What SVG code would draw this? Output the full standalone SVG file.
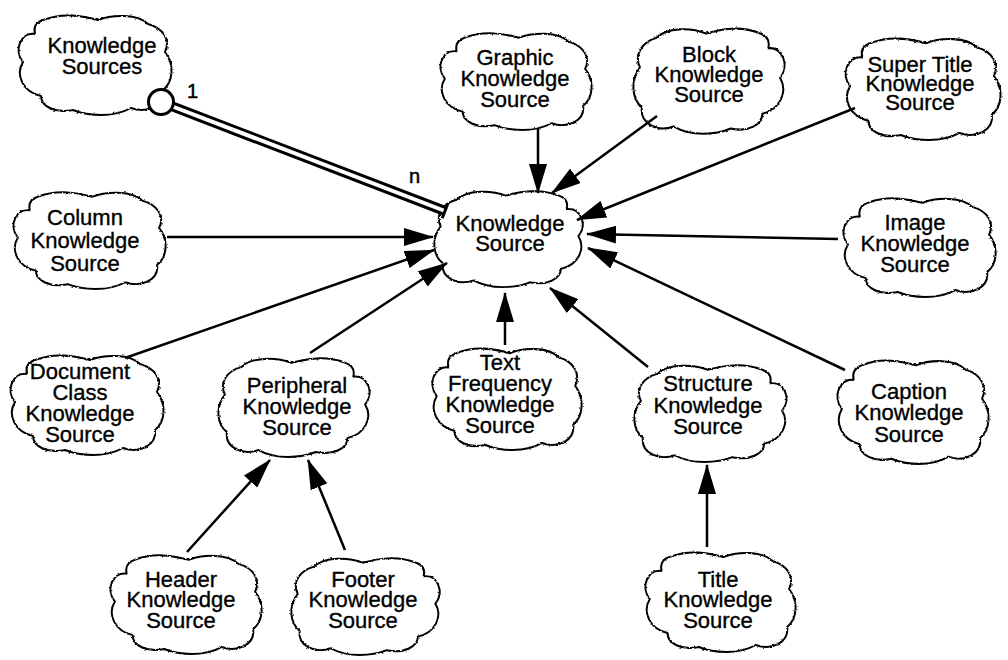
<svg xmlns="http://www.w3.org/2000/svg" xmlns:xlink="http://www.w3.org/1999/xlink" width="1008" height="660" viewBox="0 0 1008 660">
  <style>
    .cloud { fill: #fff; stroke: #000; stroke-width: 2; stroke-linejoin: round; vector-effect: non-scaling-stroke; }
    .lbl { font-family: "Liberation Sans", Arial, Helvetica, sans-serif; font-size: 22px; fill: #000; stroke: #000; stroke-width: 0.35; text-anchor: middle; }
    .card { font-family: "Liberation Sans", Arial, Helvetica, sans-serif; font-size: 20px; fill: #000; stroke: #000; stroke-width: 0.5; }
    .edge { stroke: #000; stroke-width: 2.5; fill: none; marker-end: url(#ah); }
  </style>
  <defs>
    <path id="cloud" d="M30,10 C50,2 70,6 85,10 C100,4 125,4 135,14 C150,18 158,30 152,42 C162,55 160,72 150,80 C152,95 135,104 118,98 C100,108 75,106 60,100 C42,104 28,96 28,86 C10,82 2,65 10,52 C0,40 8,22 22,24 C20,16 24,12 30,10 Z"/>
    <filter id="rough" x="-5%" y="-5%" width="110%" height="110%">
      <feTurbulence type="fractalNoise" baseFrequency="0.35" numOctaves="2" seed="3" result="n"/>
      <feDisplacementMap in="SourceGraphic" in2="n" scale="2.5" xChannelSelector="R" yChannelSelector="G"/>
    </filter>
    <marker id="ah" markerUnits="userSpaceOnUse" markerWidth="30" markerHeight="18" refX="29" refY="9" orient="auto">
      <path d="M0,0 L30,9 L0,18 Z" fill="#000"/>
    </marker>
  </defs>
  <rect width="1008" height="660" fill="#fff"/>

  <g id="node-knowledge-sources">
    <use xlink:href="#cloud" class="cloud" filter="url(#rough)" transform="translate(13,10) scale(1,1)"/>
    <text class="lbl"><tspan x="102" y="53">Knowledge</tspan><tspan x="102" y="74">Sources</tspan></text>
  </g>
  <g id="node-graphic">
    <use xlink:href="#cloud" class="cloud" filter="url(#rough)" transform="translate(435,28) scale(0.9875,0.972)"/>
    <text class="lbl"><tspan x="515" y="65">Graphic</tspan><tspan x="515" y="86">Knowledge</tspan><tspan x="515" y="107">Source</tspan></text>
  </g>
  <g id="node-block">
    <use xlink:href="#cloud" class="cloud" filter="url(#rough)" transform="translate(790,23) scale(-0.9875,1.055)"/>
    <text class="lbl"><tspan x="709" y="62">Block</tspan><tspan x="709" y="82">Knowledge</tspan><tspan x="709" y="102">Source</tspan></text>
  </g>
  <g id="node-super-title">
    <use xlink:href="#cloud" class="cloud" filter="url(#rough)" transform="translate(840,33) scale(1.0125,1.02)"/>
    <text class="lbl"><tspan x="920" y="72">Super Title</tspan><tspan x="920" y="91">Knowledge</tspan><tspan x="920" y="110">Source</tspan></text>
  </g>
  <g id="node-column">
    <use xlink:href="#cloud" class="cloud" filter="url(#rough)" transform="translate(8,187) scale(0.994,0.972)"/>
    <text class="lbl"><tspan x="85" y="225">Column</tspan><tspan x="85" y="248">Knowledge</tspan><tspan x="85" y="271">Source</tspan></text>
  </g>
  <g id="node-knowledge-source">
    <use xlink:href="#cloud" class="cloud" filter="url(#rough)" transform="translate(588,186) scale(-0.969,0.963)"/>
    <text class="lbl"><tspan x="510" y="231">Knowledge</tspan><tspan x="510" y="251">Source</tspan></text>
  </g>
  <g id="node-image">
    <use xlink:href="#cloud" class="cloud" filter="url(#rough)" transform="translate(838,193) scale(0.994,0.99)"/>
    <text class="lbl"><tspan x="915" y="230">Image</tspan><tspan x="915" y="251">Knowledge</tspan><tspan x="915" y="272">Source</tspan></text>
  </g>
  <g id="node-document-class">
    <use xlink:href="#cloud" class="cloud" filter="url(#rough)" transform="translate(5,350) scale(1,1)"/>
    <text class="lbl"><tspan x="80" y="379">Document</tspan><tspan x="80" y="400">Class</tspan><tspan x="80" y="421">Knowledge</tspan><tspan x="80" y="442">Source</tspan></text>
  </g>
  <g id="node-peripheral">
    <use xlink:href="#cloud" class="cloud" filter="url(#rough)" transform="translate(375,353) scale(-0.9875,0.99)"/>
    <text class="lbl"><tspan x="297" y="393">Peripheral</tspan><tspan x="297" y="414">Knowledge</tspan><tspan x="297" y="435">Source</tspan></text>
  </g>
  <g id="node-text-frequency">
    <use xlink:href="#cloud" class="cloud" filter="url(#rough)" transform="translate(427,343) scale(0.975,1.02)"/>
    <text class="lbl"><tspan x="500" y="370">Text</tspan><tspan x="500" y="391">Frequency</tspan><tspan x="500" y="412">Knowledge</tspan><tspan x="500" y="433">Source</tspan></text>
  </g>
  <g id="node-structure">
    <use xlink:href="#cloud" class="cloud" filter="url(#rough)" transform="translate(792,360) scale(-0.994,0.972)"/>
    <text class="lbl"><tspan x="708" y="391">Structure</tspan><tspan x="708" y="413">Knowledge</tspan><tspan x="708" y="434">Source</tspan></text>
  </g>
  <g id="node-caption">
    <use xlink:href="#cloud" class="cloud" filter="url(#rough)" transform="translate(832,355) scale(0.9875,1.037)"/>
    <text class="lbl"><tspan x="909" y="399">Caption</tspan><tspan x="909" y="420">Knowledge</tspan><tspan x="909" y="442">Source</tspan></text>
  </g>
  <g id="node-header">
    <use xlink:href="#cloud" class="cloud" filter="url(#rough)" transform="translate(105,550) scale(0.9875,0.99)"/>
    <text class="lbl"><tspan x="181" y="587">Header</tspan><tspan x="181" y="607">Knowledge</tspan><tspan x="181" y="628">Source</tspan></text>
  </g>
  <g id="node-footer">
    <use xlink:href="#cloud" class="cloud" filter="url(#rough)" transform="translate(445,553) scale(-0.969,0.972)"/>
    <text class="lbl"><tspan x="363" y="587">Footer</tspan><tspan x="363" y="607">Knowledge</tspan><tspan x="363" y="628">Source</tspan></text>
  </g>
  <g id="node-title">
    <use xlink:href="#cloud" class="cloud" filter="url(#rough)" transform="translate(640,547) scale(0.981,1)"/>
    <text class="lbl"><tspan x="718" y="587">Title</tspan><tspan x="718" y="607">Knowledge</tspan><tspan x="718" y="628">Source</tspan></text>
  </g>

  <g id="connectors">
    <g id="aggregation">
      <line x1="173" y1="106.7" x2="445" y2="211" stroke="#000" stroke-width="10"/>
      <line x1="170" y1="105.5" x2="445" y2="211" stroke="#fff" stroke-width="4"/>
      <line x1="447.8" y1="203.8" x2="442.2" y2="218.2" stroke="#000" stroke-width="3"/>
      <circle cx="161" cy="102" r="12.5" fill="#fff" stroke="#000" stroke-width="3"/>
      <text class="card" x="187" y="98">1</text>
      <text class="card" x="409" y="183">n</text>
    </g>
    <line class="edge" x1="167" y1="237" x2="433" y2="237"/>
    <line class="edge" x1="125" y1="358" x2="434" y2="250"/>
    <line class="edge" x1="310" y1="353" x2="447" y2="263"/>
    <line class="edge" x1="538" y1="128" x2="538" y2="193"/>
    <line class="edge" x1="657" y1="116" x2="552" y2="193"/>
    <line class="edge" x1="855" y1="108" x2="577" y2="220"/>
    <line class="edge" x1="838" y1="239" x2="587" y2="234"/>
    <line class="edge" x1="845" y1="370" x2="588" y2="248"/>
    <line class="edge" x1="648" y1="367" x2="550" y2="288"/>
    <line class="edge" x1="505" y1="345" x2="505" y2="293"/>
    <line class="edge" x1="187" y1="552" x2="270" y2="460"/>
    <line class="edge" x1="345" y1="550" x2="308" y2="460"/>
    <line class="edge" x1="707" y1="547" x2="707" y2="465"/>
  </g>
</svg>
